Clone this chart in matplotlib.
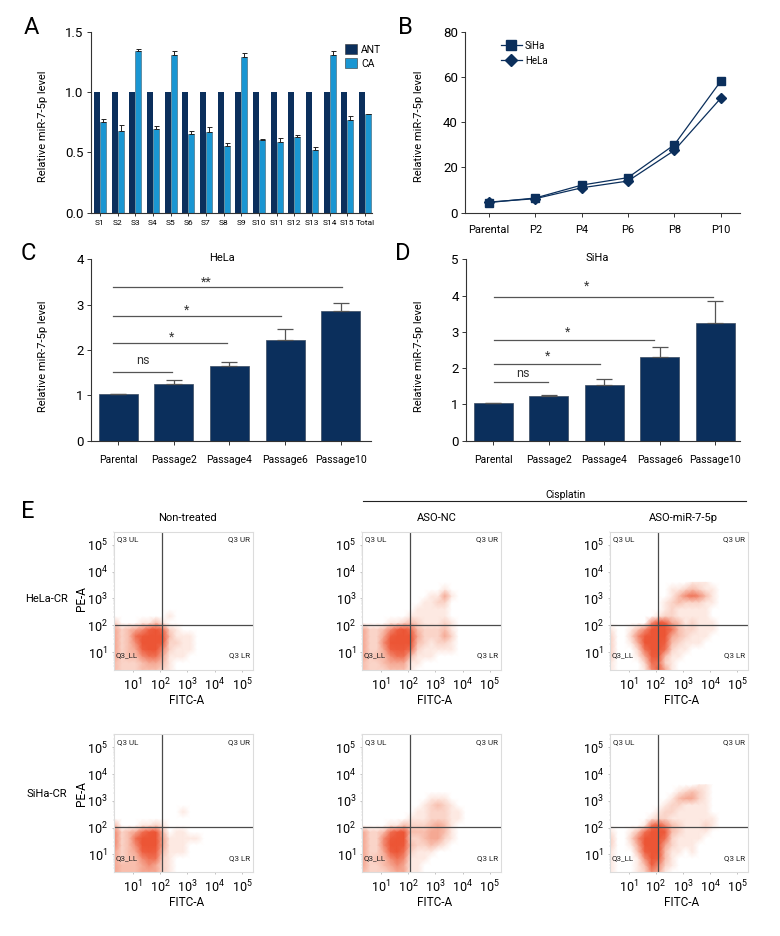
import matplotlib

matplotlib.use("Agg")
import matplotlib.pyplot as plt
import numpy as np
from matplotlib.colors import LinearSegmentedColormap
from matplotlib.lines import Line2D
from matplotlib.patches import Patch

plt.rcParams["font.family"] = ["Roboto", "DejaVu Sans"]
plt.rcParams["mathtext.default"] = "regular"

W, H = 780, 936
NAVY = "#0b2f5c"
BLUE = "#1a96d2"
GREY = "#555555"

samples = [f"S{i}" for i in range(1, 16)] + ["Total"]
ant_level = [1.0] * 16
ca_level = [0.75, 0.68, 1.34, 0.69, 1.31, 0.65, 0.67, 0.55, 1.29, 0.60, 0.59, 0.63, 0.52, 1.31, 0.765, 0.82]
ca_err = [0.03, 0.05, 0.015, 0.025, 0.03, 0.025, 0.04, 0.025, 0.03, 0.01, 0.025, 0.015, 0.025, 0.03, 0.04, 0.0]

passage_short = ["Parental", "P2", "P4", "P6", "P8", "P10"]
siha_line = [4.5, 6.5, 12.2, 15.5, 30.0, 58.0]
hela_line = [4.7, 6.2, 11.0, 14.0, 27.5, 50.5]

passage_long = ["Parental", "Passage2", "Passage4", "Passage6", "Passage10"]
hela_bar = [1.02, 1.24, 1.64, 2.22, 2.86]
hela_err = [0.0, 0.09, 0.09, 0.25, 0.17]
siha_bar = [1.03, 1.22, 1.54, 2.32, 3.25]
siha_err = [0.0, 0.03, 0.16, 0.26, 0.61]

# (x start, x end, height, label, label x, label y)
hela_sig = [
    (-0.095, 0.966, 1.51, "ns", 0.44, 1.77),
    (-0.095, 1.955, 2.15, "*", 0.96, 2.28),
    (-0.095, 2.93, 2.76, "*", 1.23, 2.88),
    (-0.095, 4.02, 3.40, "**", 1.59, 3.49),
]
siha_sig = [
    (0.01, 0.99, 1.62, "ns", 0.53, 1.85),
    (0.01, 1.92, 2.12, "*", 0.98, 2.34),
    (0.01, 2.89, 2.78, "*", 1.33, 2.99),
    (0.01, 3.95, 3.97, "*", 1.68, 4.27),
]

# flow cytometry density read by eye, 0-9, top row first
# columns start at log10 x = 0.35, rows end at log10 y = 0.35, step 0.25
hela_nt = [
    "000000000000000000", "000000000000000000", "000000000000000000", "000000000000000000", "000000000000000000",
    "000000001000000000", "200011310000000000", "423457962100000000", "423689993111000000", "423599982211000000",
    "423479952111000000", "423356641110000000", "322234431000000000", "322233321000000000",
]
hela_nc = [
    "000000000000000000", "000000000000100000", "000000000011410000", "000000000112200000", "000000001111100000",
    "000000011111100000", "000011232111210000", "422357963222310000", "422479994222420000", "422599993212210000",
    "422478862111110000", "423356631110000000", "322344411000000000", "322233310000000000",
]
hela_mir = [
    "000000000000111000", "000000000112321100", "000000000135653100", "000000001232221100", "000000001211111000",
    "000000012211111000", "000000597431211100", "100135999632211100", "200258999432111000", "200149997321110000",
    "200026996211000000", "200014883110000000", "100002662100000000", "100001574100000000",
]
siha_nt = [
    "000000000000000000", "000000000000000000", "000000000000000000", "000000000000000000", "000000000010000000",
    "000000000000000000", "300011210000000000", "523468930110000000", "523699941111100000", "523599941110000000",
    "423478731110000000", "423356621000000000", "433345421000000000", "433344421000000000",
]
siha_nc = [
    "000000000000000000", "000000000000000000", "000000000011100000", "000000000123210000", "000000001122211000",
    "000000011122211000", "000011322234310000", "422368933344310000", "422589922344210000", "422599832232100000",
    "422479621110000000", "423356511100000000", "422345411000000000", "322234411000000000",
]
siha_mir = [
    "000000000000011000", "000000000012321000", "000000000134421000", "000000001221111000", "000000012211111000",
    "000000122111111100", "000001685321112100", "100136998321111000", "200259996211110000", "200149994211100000",
    "100037993110100000", "100015973100000000", "100013752100000000", "100012541000000000",
]

flow_titles = ["Non-treated", "ASO-NC", "ASO-miR-7-5p"]
flow_rows = ["HeLa-CR", "SiHa-CR"]
gate_x = 120
gate_y = 105

fig = plt.figure(figsize=(W / 100, H / 100), dpi=100)


def add_axes(left, top, right, bottom):
    return fig.add_axes([left / W, 1 - bottom / H, (right - left) / W, (bottom - top) / H])


def put(x, y, s, **kw):
    kw.setdefault("ha", "center")
    kw.setdefault("va", "center")
    kw.setdefault("fontsize", 9)
    fig.text(x / W, 1 - y / H, s, **kw)


def style(ax):
    ax.spines[["top", "right"]].set_visible(False)
    ax.spines[["left", "bottom"]].set_linewidth(0.8)
    ax.spines[["left", "bottom"]].set_color("#333333")
    ax.tick_params(length=3, width=0.7, labelsize=9.5, pad=2, color="#333333")


def passage_bars(ax, labels, values, errs, sig, ymax, xlim):
    x = np.arange(len(labels))
    ax.bar(x, values, width=0.7, color=NAVY, edgecolor="#3a4a60", linewidth=0.5)
    ax.errorbar(x, values, yerr=[np.zeros(len(errs)), errs], fmt="none", ecolor=GREY, elinewidth=0.9, capsize=5.5, capthick=0.9)
    for x0, x1, h, text, tx, ty in sig:
        ax.plot([x0, x1], [h, h], color=GREY, lw=0.9)
        ax.text(tx, ty, text, ha="center", va="center", fontsize=9, color="#333333")
    ax.set_xlim(*xlim)
    ax.set_ylim(0, ymax)
    ax.set_yticks(range(ymax + 1))
    ax.set_xticks(x, labels)
    style(ax)
    ax.tick_params(axis="x", labelsize=7.5, pad=7)


# A
ax = add_axes(90.7, 31.7, 372, 212.7)
x = np.arange(len(samples))
ax.bar(x - 0.17, ant_level, width=0.34, color=NAVY)
ax.bar(x + 0.17, ca_level, width=0.34, color=BLUE, edgecolor="#44606f", linewidth=0.4)
ax.errorbar(x + 0.17, ca_level, yerr=[np.zeros(16), ca_err], fmt="none", ecolor="#222222", elinewidth=0.7, capsize=1.8, capthick=0.7)
ax.set_xlim(-0.526, 15.4)
ax.set_ylim(0, 1.5)
ax.set_yticks([0, 0.5, 1.0, 1.5], ["0.0", "0.5", "1.0", "1.5"])
ax.set_xticks(x, samples)
style(ax)
ax.tick_params(axis="x", labelsize=6, length=2, pad=3)
ax.legend(
    handles=[Patch(facecolor=NAVY, edgecolor="#333333", linewidth=0.4, label="ANT"), Patch(facecolor=BLUE, edgecolor="#333333", linewidth=0.4, label="CA")],
    loc="upper left", bbox_to_anchor=(0.905, 0.93), frameon=False, fontsize=7.5, handlelength=1.1, handleheight=1.1,
    handletextpad=0.4, labelspacing=0.3, borderpad=0, borderaxespad=0,
)

# B
ax = add_axes(465, 31.7, 740, 212.7)
x = np.arange(len(passage_short))
ax.plot(x, siha_line, "-s", color=NAVY, lw=0.9, ms=5.2, label="SiHa")
ax.plot(x, hela_line, "-D", color=NAVY, lw=0.9, ms=4.6, label="HeLa")
ax.set_xlim(-0.52, 5.42)
ax.set_ylim(0, 80)
ax.set_yticks([0, 20, 40, 60, 80])
ax.set_xticks(x, passage_short)
style(ax)
ax.tick_params(axis="x", labelsize=8, pad=6)
ax.legend(loc="upper left", bbox_to_anchor=(0.13, 0.95), frameon=False, fontsize=7, handlelength=2.2, markerscale=1.3,
          handletextpad=0.3, labelspacing=0.5, borderpad=0, borderaxespad=0)

# C and D
ax = add_axes(90.7, 259.3, 370.7, 440.7)
passage_bars(ax, passage_long, hela_bar, hela_err, hela_sig, 4, (-0.496, 4.54))
ax = add_axes(465.7, 259.3, 740, 440.7)
passage_bars(ax, passage_long, siha_bar, siha_err, siha_sig, 5, (-0.497, 4.445))

put(222, 257.7, "HeLa", fontsize=8)
put(597, 257.7, "SiHa", fontsize=8)
for px, py in [(43, 126.7), (419, 126.7), (43, 356.7), (419, 356.7)]:
    put(px, py, "Relative miR-7-5p level", rotation=90, fontsize=8)
for px, py, letter in [(31, 27, "A"), (405, 27, "B"), (28, 254, "C"), (403, 254, "D"), (28, 511, "E")]:
    put(px, py, letter, fontsize=17)

# E
flow_cmap = LinearSegmentedColormap.from_list(
    "flow", [(0, "#ffffff"), (0.11, "#fde9e2"), (0.44, "#f5a994"), (0.72, "#ee6244"), (1, "#ec5535")]
)
grid_x = 10 ** (0.35 + 0.25 * np.arange(18))
grid_y = 10 ** (0.35 + 0.25 * np.arange(14))
flow_boxes_x = [(114, 253), (362.3, 500.7), (610, 748)]
flow_boxes_y = [(531.7, 670), (734.3, 872.3)]
flow_grids = [[hela_nt, hela_nc, hela_mir], [siha_nt, siha_nc, siha_mir]]

for r, (top, bottom) in enumerate(flow_boxes_y):
    for c, (left, right) in enumerate(flow_boxes_x):
        ax = add_axes(left, top, right, bottom)
        density = np.array([[int(ch) for ch in row] for row in flow_grids[r][c]], dtype=float)[::-1]
        ax.pcolormesh(grid_x, grid_y, density, cmap=flow_cmap, vmin=0, vmax=9, shading="gouraud", rasterized=True)
        ax.set_xscale("log")
        ax.set_yscale("log")
        ax.set_xlim(10**0.31, 10**5.4)
        ax.set_ylim(10**0.33, 10**5.49)
        ax.axvline(gate_x, color="#4a4a4a", lw=0.9)
        ax.axhline(gate_y, color="#4a4a4a", lw=0.9)
        ticks = [10, 100, 1000, 10000, 100000]
        ax.set_xticks(ticks)
        ax.set_yticks(ticks)
        ax.tick_params(axis="both", which="major", length=1.5, width=0.5, color="#aaaaaa", labelsize=9, pad=3)
        ax.tick_params(axis="both", which="minor", length=1, width=0.3, color="#cccccc")
        for spine in ax.spines.values():
            spine.set_color("#dcdcdc")
            spine.set_linewidth(0.8)
        for tx, ty, s, ha in [(0.02, 0.945, "Q3 UL", "left"), (0.98, 0.945, "Q3 UR", "right"), (0.01, 0.105, "Q3_LL", "left"), (0.98, 0.105, "Q3 LR", "right")]:
            ax.text(tx, ty, s, transform=ax.transAxes, ha=ha, va="center", fontsize=5.8, color="#222222")
        put((left + right) / 2 + 3, bottom + 30.5, "FITC-A", fontsize=8.5)

for title, cx in zip(flow_titles, [187, 436.7, 683]):
    put(cx, 517.7, title, fontsize=8)
put(565, 495, "Cisplatin", fontsize=7.5)
fig.add_artist(Line2D([363 / W, 746 / W], [1 - 501.3 / H, 1 - 501.3 / H], color="#222222", lw=0.8))
for label, py in zip(flow_rows, [598.5, 794]):
    put(47, py, label, fontsize=8)
    put(81.7, py, "PE-A", rotation=90, fontsize=8.5)

fig.savefig("out.png", dpi=100)
